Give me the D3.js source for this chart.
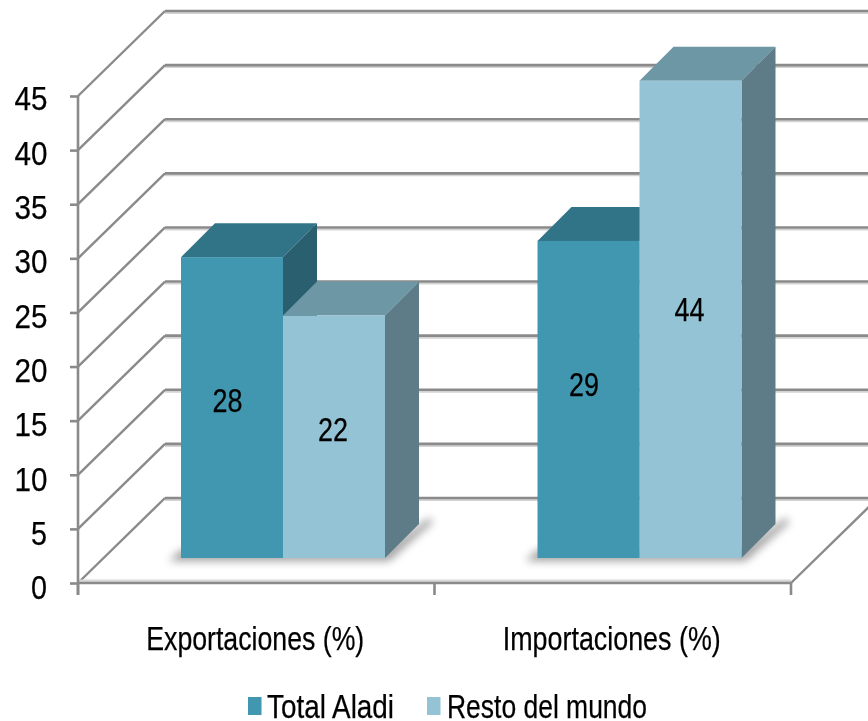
<!DOCTYPE html>
<html><head><meta charset="utf-8">
<script src="https://cdnjs.cloudflare.com/ajax/libs/d3/7.8.5/d3.min.js"></script>
<style>html,body{margin:0;padding:0;background:#fff;overflow:hidden}svg{display:block}
text{font-family:"Liberation Sans",Arial,sans-serif;fill:#000;stroke:#000;stroke-width:.25}</style></head><body>
<script>
const categories = ["Exportaciones (%)", "Importaciones (%)"];
const seriesNames = ["Total Aladi", "Resto del mundo"];
const totalAladi = [27.8, 29.3];
const restoMundo = [22.4, 44.1];
const labelsAladi = ["28", "29"];
const labelsResto = ["22", "44"];
const yTicks = [0, 5, 10, 15, 20, 25, 30, 35, 40, 45, 50];

const W = 868, H = 721;
const svg = d3.select("body").append("svg").attr("width", W).attr("height", H);
const defs = svg.append("defs");
defs.append("filter").attr("id","soft").attr("x","-20%").attr("y","-20%").attr("width","140%").attr("height","140%")
  .append("feGaussianBlur").attr("stdDeviation",0.5);
defs.append("filter").attr("id","shadow").attr("x","-20%").attr("y","-20%").attr("width","140%").attr("height","140%")
  .append("feGaussianBlur").attr("stdDeviation",4);

const y = d3.scaleLinear().domain([0,45]).range([583,96]);
const x = d3.scaleBand().domain(categories).range([78,791]);
const wallDx = 87, wallDy = -85;
const barFrontDx = 26.75, barFrontDy = -25;
const barDepth = 34, barW = 102, groupW = barW*2;
const gridColor = "#8a8a8a";

// back wall gridlines + side wall diagonals
const grid = svg.append("g");
grid.selectAll("line.halo").data(yTicks).join("line").attr("class","halo")
  .attr("x1",78+wallDx).attr("x2",W)
  .attr("y1",d=>y(d)+wallDy+2).attr("y2",d=>y(d)+wallDy+2)
  .attr("stroke","#d4d4d4").attr("stroke-width",2);
grid.selectAll("line.back").data(yTicks).join("line").attr("class","back")
  .attr("x1",78+wallDx).attr("x2",W)
  .attr("y1",d=>y(d)+wallDy).attr("y2",d=>y(d)+wallDy)
  .attr("stroke",gridColor).attr("stroke-width",2.6);
grid.selectAll("line.side").data(yTicks.slice(0,10)).join("line").attr("class","side")
  .attr("x1",78).attr("x2",78+wallDx)
  .attr("y1",d=>y(d)).attr("y2",d=>y(d)+wallDy)
  .attr("stroke",gridColor).attr("stroke-width",2.4);

// floor
grid.append("line").attr("x1",791).attr("x2",791+wallDx).attr("y1",583).attr("y2",583+wallDy)
  .attr("stroke",gridColor).attr("stroke-width",2.4);
grid.append("line").attr("x1",78).attr("x2",791).attr("y1",581).attr("y2",581).attr("stroke","#d8d8d8").attr("stroke-width",3);

// axes
const yAxis = d3.axisLeft(y).tickValues(yTicks.slice(0,10)).tickSize(8).tickPadding(10);
const gy = svg.append("g").attr("transform","translate(78,0)").call(yAxis);
const xAxis = d3.axisBottom(x).tickValues([]).tickSize(0);
const gx = svg.append("g").attr("transform","translate(0,583)").call(xAxis);
[gy,gx].forEach(g=>{g.selectAll("path,line").attr("stroke",gridColor).attr("stroke-width",2.6);});
gy.select("path").attr("d","M0,96V595");
gx.select("path").attr("d","M78,0H791");
gx.selectAll("line.xt").data([78,434.5,791]).join("line").attr("class","xt")
  .attr("x1",d=>d).attr("x2",d=>d).attr("y1",0).attr("y2",12)
  .attr("stroke",gridColor).attr("stroke-width",2.6);

gy.selectAll("text").attr("font-size",34).attr("dy","0.38em")
  .attr("text-anchor","middle").attr("x",-47)
  .attr("y",d=>1+(45-d)/45*2)
  .attr("textLength",d=>d<10?16:33).attr("lengthAdjust","spacingAndGlyphs")
  .attr("filter","url(#soft)");
gy.selectAll("text").filter(d=>d<10).attr("x",-39);

// bars
const series = [
  {name:seriesNames[0], vals:totalAladi, labels:labelsAladi, shift:[-7,-14], xShift:-4.5, front:"#4197b0", top:"#317387", side:"#2a5f70", off:0},
  {name:seriesNames[1], vals:restoMundo, labels:labelsResto, shift:[-7,-9], xShift:-1, front:"#93c3d5", top:"#6e97a6", side:"#5d7c88", off:1}
];
const base = 583 + barFrontDy;
const h = d => y(0)-y(d);
const barsG = svg.append("g");
// floor shadows
categories.forEach((c,i)=>{
  const x0 = x(c)+x.bandwidth()/2 - groupW/2 + barFrontDx;
  const x1 = x0+groupW;
  barsG.append("path")
    .attr("d",`M${x0-12},${base+3}L${x0},${base-8}H${x1}L${x1+barDepth+10},${base-barDepth-6}L${x1+barDepth+14},${base-barDepth-2}L${x1+4},${base+3}Z`)
    .attr("fill","#777").attr("opacity",.7).attr("filter","url(#shadow)");
});
categories.forEach((c,i)=>{
  const x0 = x(c)+x.bandwidth()/2 - groupW/2 + barFrontDx;
  series.forEach(s=>{
    const bx = x0 + s.off*barW, v = s.vals[i], by = base-h(v);
    const g = barsG.append("g");
    g.append("path").attr("d",`M${bx},${by}l${barDepth},${-barDepth}h${barW}l${-barDepth},${barDepth}Z`).attr("fill",s.top);
    g.append("path").attr("d",`M${bx+barW},${by}l${barDepth},${-barDepth}v${h(v)}l${-barDepth},${barDepth}Z`).attr("fill",s.side);
    g.append("rect").attr("x",bx).attr("y",by).attr("width",barW).attr("height",h(v)).attr("fill",s.front);
    g.append("text").text(s.labels[i]).attr("x",bx+barW/2+s.xShift).attr("y",by+h(v)/2+11+s.shift[i])
      .attr("text-anchor","middle").attr("font-size",33).attr("textLength",30).attr("lengthAdjust","spacingAndGlyphs")
      .attr("filter","url(#soft)");
  });
});

// category labels
svg.selectAll("text.cat").data(categories).join("text").attr("class","cat")
  .text(d=>d).attr("x",d=>x(d)+x.bandwidth()/2-1).attr("y",650)
  .attr("text-anchor","middle").attr("font-size",34).attr("textLength",218).attr("lengthAdjust","spacingAndGlyphs")
  .attr("filter","url(#soft)");

// legend
const legend = [{n:seriesNames[0],c:series[0].front,sx:248,tx:267,tl:127},{n:seriesNames[1],c:series[1].front,sx:427,tx:447,tl:200}];
const lg = svg.selectAll("g.leg").data(legend).join("g").attr("class","leg");
lg.append("rect").attr("x",d=>d.sx).attr("y",697).attr("width",13.5).attr("height",18).attr("fill",d=>d.c);
lg.append("text").text(d=>d.n).attr("x",d=>d.tx).attr("y",718).attr("font-size",34)
  .attr("textLength",d=>d.tl).attr("lengthAdjust","spacingAndGlyphs").attr("filter","url(#soft)");
</script></body></html>
